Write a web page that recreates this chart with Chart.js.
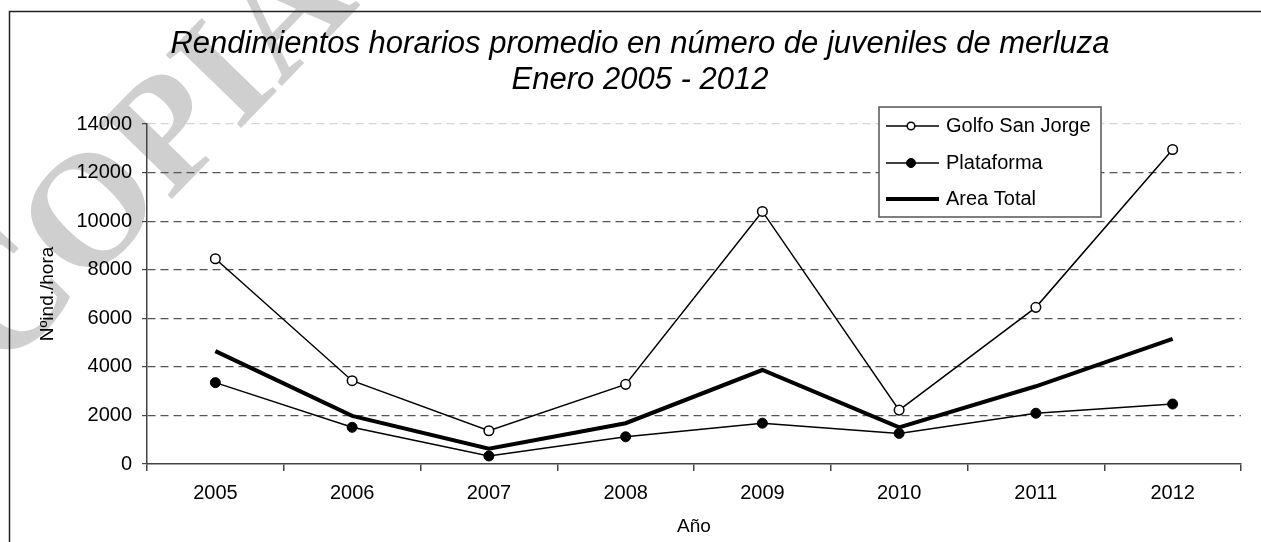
<!DOCTYPE html>
<html>
<head>
<meta charset="utf-8">
<script src="https://cdn.jsdelivr.net/npm/chart.js@4.4.1/dist/chart.umd.min.js"></script>
<style>
  html, body { margin: 0; padding: 0; background: #fff; }
  canvas { display: block; }
</style>
</head>
<body>
<canvas id="chart" width="1261" height="542"></canvas>
<script>
const years = ["2005", "2006", "2007", "2008", "2009", "2010", "2011", "2012"];
const golfoSanJorge = [8450, 3430, 1370, 3280, 10400, 2220, 6450, 12950];
const plataforma = [3350, 1510, 330, 1120, 1680, 1260, 2090, 2470];
const areaTotal = [4650, 1980, 630, 1680, 3870, 1510, 3200, 5150];
const yTicks = [0, 2000, 4000, 6000, 8000, 10000, 12000, 14000];

const titleLines = ["Rendimientos horarios promedio en número de juveniles de merluza", "Enero 2005 - 2012"];
const watermark = "COPIA L";

const sans = "'Liberation Sans', Arial, sans-serif";

// frame, title and the faint stamp behind everything
const framePlugin = {
  id: "frame",
  beforeDraw(chart) {
    const ctx = chart.ctx;
    ctx.save();
    ctx.fillStyle = "#fff";
    ctx.fillRect(0, 0, chart.width, chart.height);
    ctx.translate(2, 374);
    ctx.rotate(-0.8);
    ctx.font = "bold 160px 'Liberation Serif', 'Times New Roman', serif";
    ctx.fillStyle = "#cfcfcf";
    ctx.textBaseline = "alphabetic";
    ctx.fillText(watermark, 0, 0);
    ctx.restore();

    ctx.save();
    ctx.strokeStyle = "#222";
    ctx.lineWidth = 1.5;
    ctx.beginPath();
    ctx.moveTo(9.5, chart.height);
    ctx.lineTo(9.5, 11.5);
    ctx.lineTo(chart.width, 11.5);
    ctx.stroke();

    ctx.fillStyle = "#000";
    ctx.font = "italic 31px " + sans;
    ctx.textAlign = "center";
    ctx.textBaseline = "alphabetic";
    ctx.fillText(titleLines[0], 640, 53);
    ctx.fillText(titleLines[1], 640, 89);
    ctx.restore();
  }
};

// boxed legend sitting inside the plot
const boxLegend = {
  id: "boxLegend",
  afterDraw(chart) {
    const ctx = chart.ctx;
    const box = { x: 879, y: 107, w: 222, h: 110 };
    ctx.save();
    ctx.fillStyle = "#fff";
    ctx.fillRect(box.x, box.y, box.w, box.h);
    ctx.strokeStyle = "#555";
    ctx.lineWidth = 1.5;
    ctx.strokeRect(box.x, box.y, box.w, box.h);

    const rows = [126, 163, 199];
    chart.data.datasets.forEach((ds, i) => {
      const y = rows[i];
      ctx.strokeStyle = "#000";
      ctx.lineWidth = ds.borderWidth;
      ctx.beginPath();
      ctx.moveTo(886, y);
      ctx.lineTo(939, y);
      ctx.stroke();
      if (ds.pointRadius > 0) {
        ctx.beginPath();
        ctx.arc(911, y, ds.legendRadius, 0, Math.PI * 2);
        ctx.fillStyle = ds.pointBackgroundColor;
        ctx.fill();
        ctx.lineWidth = ds.pointBorderWidth;
        ctx.strokeStyle = ds.pointBorderColor;
        ctx.stroke();
      }
      ctx.fillStyle = "#000";
      ctx.font = "20px " + sans;
      ctx.textAlign = "left";
      ctx.textBaseline = "middle";
      ctx.fillText(ds.label, 946, y);
    });
    ctx.restore();
  }
};

new Chart(document.getElementById("chart"), {
  type: "line",
  data: {
    labels: years,
    datasets: [
      {
        label: "Golfo San Jorge",
        data: golfoSanJorge,
        borderColor: "#000",
        borderWidth: 1.5,
        pointRadius: 4.8,
        legendRadius: 3.8,
        pointBackgroundColor: "#fff",
        pointBorderColor: "#000",
        pointBorderWidth: 1.5
      },
      {
        label: "Plataforma",
        data: plataforma,
        borderColor: "#000",
        borderWidth: 1.5,
        pointRadius: 5,
        legendRadius: 4.5,
        pointBackgroundColor: "#000",
        pointBorderColor: "#000",
        pointBorderWidth: 1
      },
      {
        label: "Area Total",
        data: areaTotal,
        borderColor: "#000",
        borderWidth: 4,
        pointRadius: 0
      }
    ]
  },
  options: {
    responsive: false,
    animation: false,
    layout: { padding: { top: 124, right: 20, bottom: 0, left: 0 } },
    plugins: {
      legend: { display: false },
      title: { display: false },
      tooltip: { enabled: false }
    },
    scales: {
      x: {
        offset: true,
        afterFit: (scale) => { scale.height = 78; },
        border: { color: "#444", width: 1.5 },
        grid: {
          offset: true,
          drawOnChartArea: false,
          tickLength: 7,
          color: "#444",
          lineWidth: 1.5
        },
        ticks: {
          color: "#000",
          padding: 10,
          maxRotation: 0,
          font: { family: sans, size: 20 }
        },
        title: {
          display: true,
          text: "Año",
          color: "#000",
          padding: { top: 4, bottom: 4 },
          font: { family: sans, size: 19 }
        }
      },
      y: {
        min: 0,
        max: 14000,
        afterFit: (scale) => { scale.width = 147; },
        afterBuildTicks: (scale) => { scale.ticks = yTicks.map((v) => ({ value: v })); },
        // border.dash sets the dash of the horizontal grid lines
        border: { color: "#444", width: 1.5, dash: [8, 5] },
        grid: {
          tickLength: 5,
          lineWidth: 1.2,
          color: (c) => c.tick.value === 0 ? "rgba(0,0,0,0)" : (c.tick.value === 14000 ? "#d4d4d4" : "#555"),
          tickColor: "#444",
          tickBorderDash: []
        },
        ticks: {
          color: "#000",
          padding: 10,
          font: { family: sans, size: 20 },
          callback: (v) => String(v)
        },
        title: {
          display: true,
          text: "Nºind./hora",
          color: "#000",
          padding: { top: 36, bottom: 0 },
          font: { family: sans, size: 19 }
        }
      }
    }
  },
  plugins: [framePlugin, boxLegend]
});
</script>
</body>
</html>
